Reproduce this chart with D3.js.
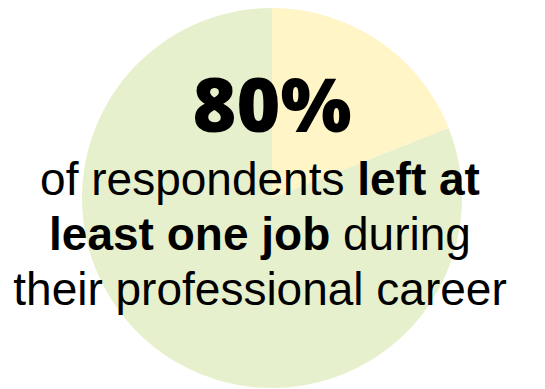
<!DOCTYPE html>
<meta charset="utf-8">
<html>
  <head>
    <style>
      body { margin: 0; background: #fff; }
      text { font-family: "Liberation Sans", Arial, sans-serif; fill: #000; }
      text.big { font-family: "Open Sans", sans-serif; font-weight: 800; font-size: 75px; }
      text.body { font-size: 46px; }
      tspan.b { font-weight: bold; }
    </style>
    <script src="https://d3js.org/d3.v7.min.js"></script>
  </head>
  <body>
    <div id="chart"></div>
    <script type="text/javascript">
      // slices, clockwise from 12 o'clock
      var categories = ["Never left a job", "Left at least one job"],
          values = [19, 81],
          colors = ["#fff5c6", "#e7f0cc"];

      var headline = "80%";
      // each line is a list of [text, bold]
      var lines = [
        [["of respondents ", false], ["left at", true]],
        [["least one job", true], [" during", false]],
        [["their professional career", false]]
      ];

      var width = 545, height = 389,
          cx = 272, cy = 198, radius = 190;

      var svg = d3.select("#chart").append("svg")
          .attr("width", width)
          .attr("height", height);

      var pie = d3.pie().sort(null).value(function(d) { return d; });
      var arc = d3.arc().innerRadius(0).outerRadius(radius);

      svg.append("g")
          .attr("transform", "translate(" + cx + "," + cy + ")")
        .selectAll("path")
          .data(pie(values))
          .enter().append("path")
            .attr("d", arc)
            .style("fill", function(d, i) { return colors[i]; })
          .append("title")
            .text(function(d, i) { return categories[i] + ": " + d.value + "%"; });

      svg.append("text")
          .attr("class", "big")
          .attr("x", cx)
          .attr("y", 132)
          .style("text-anchor", "middle")
          .text(headline);

      var lineText = svg.selectAll(".body")
          .data(lines)
          .enter().append("text")
            .attr("class", "body")
            .attr("x", 260)
            .attr("y", function(d, i) { return 195 + i * 55; })
            .style("text-anchor", "middle");

      lineText.selectAll("tspan")
          .data(function(d) { return d; })
          .enter().append("tspan")
            .attr("class", function(d) { return d[1] ? "b" : null; })
            .text(function(d) { return d[0]; });
    </script>
  </body>
</html>
